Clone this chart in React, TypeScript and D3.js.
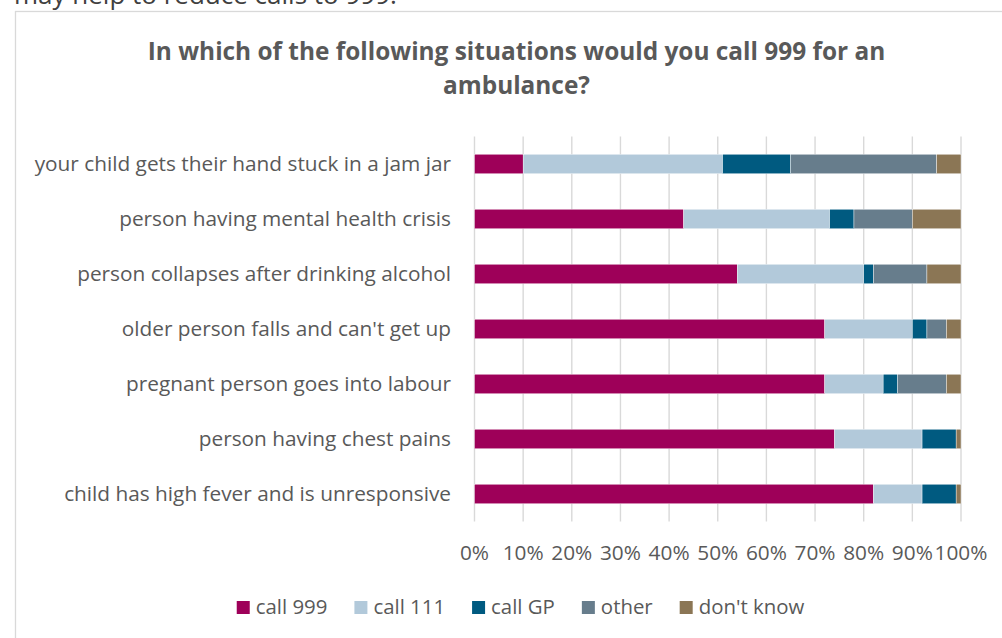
import React, { useEffect, useRef } from "react";
import * as d3 from "d3";

const categories = [
  "your child gets their hand stuck in a jam jar",
  "person having mental health crisis",
  "person collapses after drinking alcohol",
  "older person falls and can't get up",
  "pregnant person goes into labour",
  "person having chest pains",
  "child has high fever and is unresponsive",
];
const seriesNames = ["call 999", "call 111", "call GP", "other", "don't know"];
const seriesColors = ["#9E0059", "#B2C9DA", "#005A80", "#677D8C", "#8B7655"];
const call999 = [10, 43, 54, 72, 72, 74, 82];
const call111 = [41, 30, 26, 18, 12, 18, 10];
const callGP = [14, 5, 2, 3, 3, 7, 7];
const other = [30, 12, 11, 4, 10, 0, 0];
const dontKnow = [5, 10, 7, 3, 3, 1, 1];
const xTicks = [0, 0.1, 0.2, 0.3, 0.4, 0.5, 0.6, 0.7, 0.8, 0.9, 1];
const titleLines = ["In which of the following situations would you call 999 for an", "ambulance?"];
const aboveText = "may help to reduce calls to 999.";

const FONT = "'Open Sans', sans-serif";
const TEXT = "#595959";

export default function App() {
  const ref = useRef<SVGSVGElement>(null);
  useEffect(() => {
    const svg = d3.select(ref.current);
    svg.selectAll("*").remove();

    const rows = categories.map((c, i) => {
      const vals = [call999[i], call111[i], callGP[i], other[i], dontKnow[i]];
      const total = d3.sum(vals);
      const r: any = { cat: c };
      seriesNames.forEach((s, j) => (r[s] = vals[j] / total));
      return r;
    });
    const stack = d3.stack().keys(seriesNames)(rows);

    const x = d3.scaleLinear().domain([0, 1]).range([474.5, 961]);
    const y = d3
      .scaleBand()
      .domain(categories)
      .range([136.5, 521.5])
      .paddingInner(0.645)
      .paddingOuter(0.3225);

    // text above chart (cut off)
    svg
      .append("text")
      .attr("x", 14)
      .attr("y", 4)
      .attr("font-family", FONT)
      .attr("font-size", 26)
      .attr("fill", "#404040")
      .text(aboveText);

    // chart frame
    svg
      .append("rect")
      .attr("x", 15.5)
      .attr("y", 11.5)
      .attr("width", 1000)
      .attr("height", 700)
      .attr("fill", "#fff")
      .attr("stroke", "#D9D9D9")
      .attr("stroke-width", 1.3);

    // title
    const title = svg
      .append("text")
      .attr("text-anchor", "middle")
      .attr("font-family", FONT)
      .attr("font-weight", "bold")
      .attr("font-size", 24.4)
      .attr("fill", TEXT);
    titleLines.forEach((t, i) => {
      title
        .append("tspan")
        .attr("x", 516.5)
        .attr("y", 59.5 + i * 34)
        .text(t);
    });

    // gridlines
    svg
      .append("g")
      .selectAll("line")
      .data(xTicks)
      .join("line")
      .attr("x1", (d) => x(d))
      .attr("x2", (d) => x(d))
      .attr("y1", 136.5)
      .attr("y2", 521.5)
      .attr("stroke", "#D9D9D9")
      .attr("stroke-width", 1.4);

    // bars
    svg
      .append("g")
      .selectAll("g")
      .data(stack)
      .join("g")
      .attr("fill", (_d, i) => seriesColors[i])
      .selectAll("rect")
      .data((d) => d)
      .join("rect")
      .attr("x", (d) => x(d[0]))
      .attr("width", (d) => Math.max(0, x(d[1]) - x(d[0])))
      .attr("y", (d: any) => y(d.data.cat)!)
      .attr("height", y.bandwidth())
      .attr("stroke", "#fff")
      .attr("stroke-width", 0.4);

    // category labels
    svg
      .append("g")
      .selectAll("text")
      .data(categories)
      .join("text")
      .attr("x", 451)
      .attr("y", (d) => y(d)! + y.bandwidth() / 2 + 7)
      .attr("text-anchor", "end")
      .attr("font-family", FONT)
      .attr("font-size", 20.8)
      .attr("fill", TEXT)
      .text((d) => d);

    // x tick labels
    svg
      .append("g")
      .selectAll("text")
      .data(xTicks)
      .join("text")
      .attr("x", (d) => x(d))
      .attr("y", 560)
      .attr("text-anchor", "middle")
      .attr("font-family", FONT)
      .attr("font-size", 20.8)
      .attr("fill", TEXT)
      .text((d) => d3.format(".0%")(d));

    // legend
    const lg = svg.append("g");
    const items = lg
      .selectAll("g")
      .data(seriesNames)
      .join("g");
    items
      .append("rect")
      .attr("width", 13)
      .attr("height", 13)
      .attr("y", 601)
      .attr("fill", (_d, i) => seriesColors[i]);
    const texts = items
      .append("text")
      .attr("x", 19)
      .attr("y", 614)
      .attr("font-family", FONT)
      .attr("font-size", 20.4)
      .attr("fill", TEXT)
      .text((d) => d);
    const widths: number[] = [];
    texts.each(function () {
      widths.push((this as SVGTextElement).getComputedTextLength());
    });
    const gap = 27;
    const itemW = widths.map((w) => 19 + w);
    const totalW = d3.sum(itemW) + gap * (itemW.length - 1);
    let cx = 520.5 - totalW / 2;
    const offsets: number[] = [];
    itemW.forEach((w) => {
      offsets.push(cx);
      cx += w + gap;
    });
    items.attr("transform", (_d, i) => `translate(${offsets[i]},0)`);
  }, []);

  return (
    <svg
      ref={ref}
      width={1002}
      height={638}
      style={{ position: "absolute", left: 0, top: 0, background: "#fff" }}
    />
  );
}
